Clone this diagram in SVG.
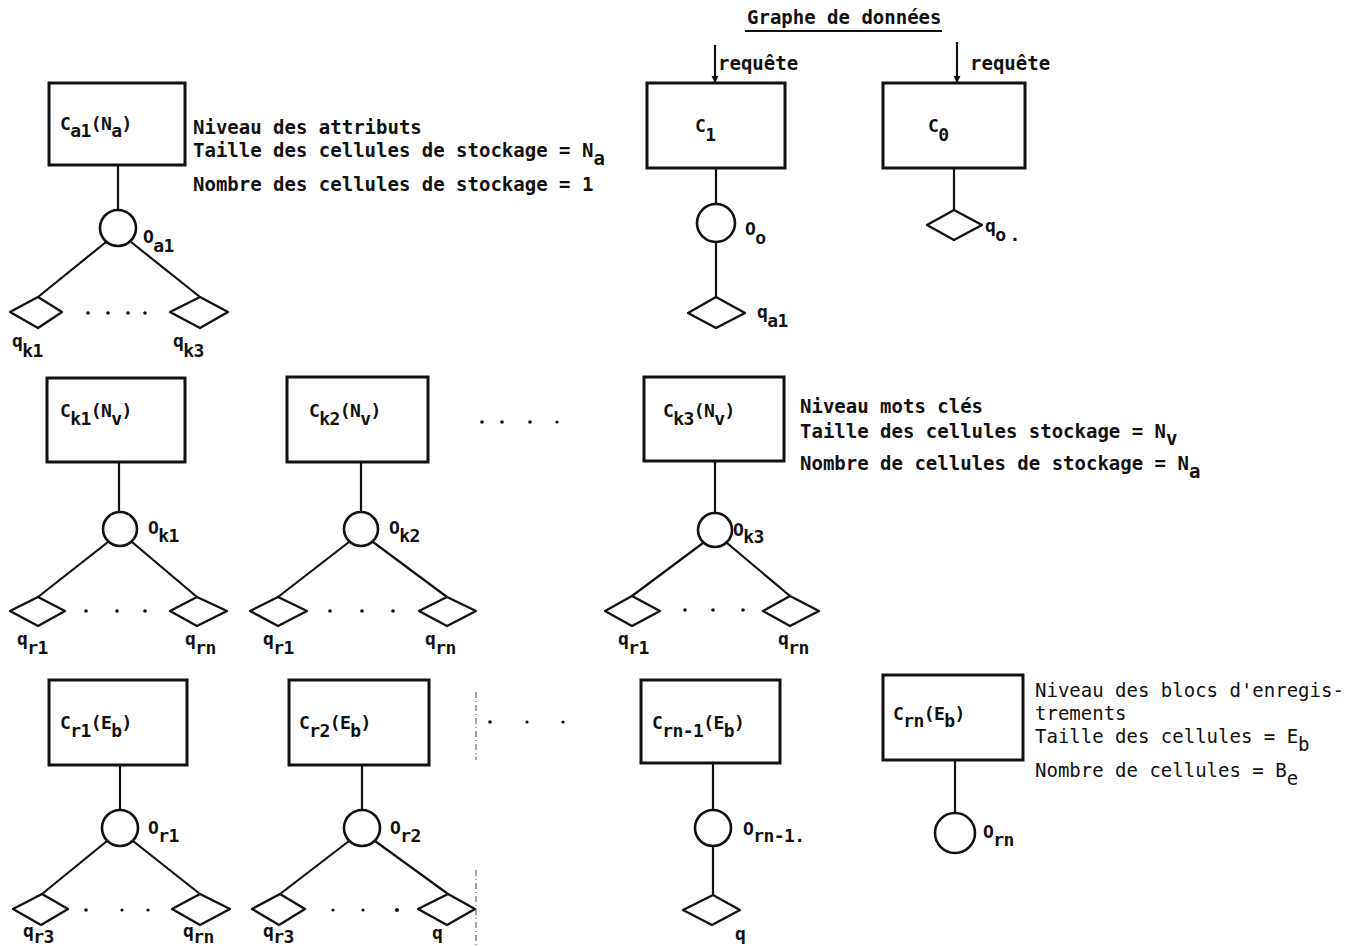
<svg xmlns="http://www.w3.org/2000/svg" width="1349" height="946" viewBox="0 0 1349 946">
<style>
  .bx{fill:none;stroke:#111;stroke-width:3}
  .ln{fill:none;stroke:#111;stroke-width:2.2}
  .ci{fill:#fff;stroke:#111;stroke-width:2.6}
  .dm{fill:#fff;stroke:#111;stroke-width:2.4;stroke-linejoin:round}
  .dot{fill:#111}
  .t{font-family:"DejaVu Sans Mono","Liberation Mono",monospace;font-size:19px;font-weight:bold;fill:#111}
  .tn{font-family:"DejaVu Sans Mono","Liberation Mono",monospace;font-size:19px;fill:#111}
  .lb{font-family:"DejaVu Sans Mono","Liberation Mono",monospace;font-size:18px;letter-spacing:-0.6px;font-weight:bold;fill:#111}
  .scan{fill:none;stroke:#444;stroke-width:1;stroke-dasharray:6 3 1 3}
</style>
<defs>
  <marker id="ah" viewBox="0 0 10 10" refX="10" refY="5" markerWidth="7" markerHeight="10" markerUnits="userSpaceOnUse" orient="auto">
    <path d="M0,0 L10,5 L0,10 z" fill="#111"/>
  </marker>
</defs>

<!-- title -->
<g id="title">
  <text class="t" x="747" y="24">Graphe de données</text>
  <line x1="745" y1="31" x2="942" y2="31" stroke="#111" stroke-width="2"/>
</g>

<!-- connectors -->
<g id="connectors">
  <line class="ln" x1="715" y1="45" x2="715" y2="83" marker-end="url(#ah)"/>
  <line class="ln" x1="957" y1="42" x2="957" y2="83" marker-end="url(#ah)"/>
  <!-- row 1 -->
  <line class="ln" x1="118" y1="165" x2="118" y2="210"/>
  <line class="ln" x1="106" y1="242" x2="38" y2="297"/>
  <line class="ln" x1="131" y1="242" x2="200" y2="297"/>
  <line class="ln" x1="716" y1="168" x2="716" y2="205"/>
  <line class="ln" x1="716" y1="242" x2="716" y2="297"/>
  <line class="ln" x1="954" y1="168" x2="954" y2="210"/>
  <!-- row 2 -->
  <line class="ln" x1="119" y1="462" x2="119" y2="512"/>
  <line class="ln" x1="108" y1="542" x2="38" y2="597"/>
  <line class="ln" x1="132" y1="542" x2="197" y2="597"/>
  <line class="ln" x1="361" y1="462" x2="361" y2="512"/>
  <line class="ln" x1="349" y1="542" x2="278" y2="597"/>
  <line class="ln" x1="373" y1="542" x2="447" y2="597"/>
  <line class="ln" x1="715" y1="461" x2="715" y2="513"/>
  <line class="ln" x1="703" y1="543" x2="632" y2="596"/>
  <line class="ln" x1="727" y1="543" x2="790" y2="596"/>
  <!-- row 3 -->
  <line class="ln" x1="120" y1="765" x2="120" y2="810"/>
  <line class="ln" x1="107" y1="841" x2="42" y2="894"/>
  <line class="ln" x1="133" y1="841" x2="200" y2="894"/>
  <line class="ln" x1="362" y1="765" x2="362" y2="810"/>
  <line class="ln" x1="349" y1="841" x2="280" y2="894"/>
  <line class="ln" x1="375" y1="841" x2="448" y2="894"/>
  <line class="ln" x1="713" y1="763" x2="713" y2="810"/>
  <line class="ln" x1="713" y1="846" x2="713" y2="895"/>
  <line class="ln" x1="955" y1="760" x2="955" y2="813"/>
</g>

<!-- ===== Row 1 ===== -->
<g id="Ca1">
  <rect class="bx" x="49" y="83" width="136" height="82"/>
  <text class="lb" x="60" y="130">C<tspan dy="7">a1</tspan><tspan dy="-7">(N</tspan><tspan dy="7">a</tspan><tspan dy="-7">)</tspan></text>
</g>
<g id="Oa1">
  <circle class="ci" cx="118" cy="228" r="18"/>
  <text class="lb" x="143" y="243">O<tspan dy="9">a1</tspan></text>
</g>
<g id="qk1">
  <polygon class="dm" points="38,297 62,312 38,328 10,312"/>
  <text class="lb" x="12" y="347">q<tspan dy="10">k1</tspan></text>
</g>
<g id="qk3">
  <polygon class="dm" points="200,297 228,312 200,328 170,312"/>
  <text class="lb" x="173" y="347">q<tspan dy="10">k3</tspan></text>
</g>
<g id="dots1">
  <circle class="dot" cx="88" cy="313" r="1.8"/>
  <circle class="dot" cx="108" cy="313" r="1.8"/>
  <circle class="dot" cx="128" cy="313" r="1.8"/>
  <circle class="dot" cx="145" cy="313" r="1.8"/>
</g>
<g id="txt-attributs">
  <text class="t" x="193" y="134">Niveau des attributs</text>
  <text class="t" x="193" y="157">Taille des cellules de stockage = N<tspan dy="8">a</tspan></text>
  <text class="t" x="193" y="191">Nombre des cellules de stockage = 1</text>
</g>

<g id="C1">
  <rect class="bx" x="647" y="83" width="138" height="85"/>
  <text class="lb" x="695" y="132">C<tspan dy="9">1</tspan></text>
  <text class="t" x="718" y="70">requête</text>
</g>
<g id="Oo">
  <circle class="ci" cx="716" cy="223" r="19"/>
  <text class="lb" x="745" y="235">O<tspan dy="9">o</tspan></text>
</g>
<g id="qa1">
  <polygon class="dm" points="716,297 745,313 716,328 688,313"/>
  <text class="lb" x="757" y="318">q<tspan dy="9">a1</tspan></text>
</g>

<g id="C0">
  <rect class="bx" x="883" y="83" width="142" height="85"/>
  <text class="lb" x="928" y="132">C<tspan dy="9">0</tspan></text>
  <text class="t" x="970" y="70">requête</text>
</g>
<g id="qo">
  <polygon class="dm" points="954,210 982,225 954,240 927,225"/>
  <text class="lb" x="985" y="232">q<tspan dy="9">o</tspan><tspan dx="4" dy="0">.</tspan></text>
</g>

<!-- ===== Row 2 ===== -->
<g id="Ck1">
  <rect class="bx" x="47" y="378" width="138" height="84"/>
  <text class="lb" x="60" y="417">C<tspan dy="8">k1</tspan><tspan dy="-8">(N</tspan><tspan dy="8">v</tspan><tspan dy="-8">)</tspan></text>
</g>
<g id="Ok1">
  <circle class="ci" cx="120" cy="529" r="17"/>
  <text class="lb" x="148" y="534">O<tspan dy="8">k1</tspan></text>
</g>
<g id="qr1-a">
  <polygon class="dm" points="38,597 65,611 38,626 10,611"/>
  <text class="lb" x="17" y="645">q<tspan dy="9">r1</tspan></text>
</g>
<g id="qrn-a">
  <polygon class="dm" points="197,597 227,611 197,626 170,611"/>
  <text class="lb" x="185" y="645">q<tspan dy="9">rn</tspan></text>
</g>
<g id="dots2a">
  <circle class="dot" cx="86" cy="611" r="1.8"/>
  <circle class="dot" cx="117" cy="611" r="1.8"/>
  <circle class="dot" cx="145" cy="611" r="1.8"/>
</g>

<g id="Ck2">
  <rect class="bx" x="287" y="377" width="141" height="85"/>
  <text class="lb" x="309" y="417">C<tspan dy="8">k2</tspan><tspan dy="-8">(N</tspan><tspan dy="8">v</tspan><tspan dy="-8">)</tspan></text>
</g>
<g id="Ok2">
  <circle class="ci" cx="361" cy="529" r="17"/>
  <text class="lb" x="389" y="534">O<tspan dy="8">k2</tspan></text>
</g>
<g id="qr1-b">
  <polygon class="dm" points="278,597 307,611 278,626 250,611"/>
  <text class="lb" x="263" y="645">q<tspan dy="9">r1</tspan></text>
</g>
<g id="qrn-b">
  <polygon class="dm" points="447,597 476,611 447,626 419,611"/>
  <text class="lb" x="425" y="645">q<tspan dy="9">rn</tspan></text>
</g>
<g id="dots2b">
  <circle class="dot" cx="330" cy="611" r="1.8"/>
  <circle class="dot" cx="362" cy="611" r="1.8"/>
  <circle class="dot" cx="393" cy="611" r="1.8"/>
</g>

<g id="dots-row2">
  <circle class="dot" cx="482" cy="422" r="1.8"/>
  <circle class="dot" cx="502" cy="422" r="1.8"/>
  <circle class="dot" cx="530" cy="422" r="1.8"/>
  <circle class="dot" cx="557" cy="422" r="1.6"/>
</g>

<g id="Ck3">
  <rect class="bx" x="644" y="377" width="140" height="84"/>
  <text class="lb" x="663" y="417">C<tspan dy="8">k3</tspan><tspan dy="-8">(N</tspan><tspan dy="8">v</tspan><tspan dy="-8">)</tspan></text>
</g>
<g id="Ok3">
  <circle class="ci" cx="715" cy="530" r="17"/>
  <text class="lb" x="733" y="536">O<tspan dy="7">k3</tspan></text>
</g>
<g id="qr1-c">
  <polygon class="dm" points="632,596 660,611 632,626 605,611"/>
  <text class="lb" x="618" y="645">q<tspan dy="9">r1</tspan></text>
</g>
<g id="qrn-c">
  <polygon class="dm" points="790,596 819,611 790,626 763,611"/>
  <text class="lb" x="778" y="645">q<tspan dy="9">rn</tspan></text>
</g>
<g id="dots2c">
  <circle class="dot" cx="685" cy="610" r="1.8"/>
  <circle class="dot" cx="713" cy="610" r="1.8"/>
  <circle class="dot" cx="743" cy="610" r="1.8"/>
</g>
<g id="txt-mots">
  <text class="t" x="800" y="413">Niveau mots clés</text>
  <text class="t" x="800" y="438">Taille des cellules stockage = N<tspan dy="7">v</tspan></text>
  <text class="t" x="800" y="470">Nombre de cellules de stockage = N<tspan dy="8">a</tspan></text>
</g>

<!-- ===== Row 3 ===== -->
<g id="Cr1">
  <rect class="bx" x="49" y="680" width="138" height="85"/>
  <text class="lb" x="60" y="729">C<tspan dy="8">r1</tspan><tspan dy="-8">(E</tspan><tspan dy="8">b</tspan><tspan dy="-8">)</tspan></text>
</g>
<g id="Or1">
  <circle class="ci" cx="120" cy="828" r="18"/>
  <text class="lb" x="148" y="834">O<tspan dy="8">r1</tspan></text>
</g>
<g id="qr3-a">
  <polygon class="dm" points="42,894 68,909 41,925 13,909"/>
  <text class="lb" x="23" y="937">q<tspan dy="6">r3</tspan></text>
</g>
<g id="qrn-d">
  <polygon class="dm" points="200,894 230,909 200,925 172,909"/>
  <text class="lb" x="183" y="937">q<tspan dy="6">rn</tspan></text>
</g>
<g id="dots3a">
  <circle class="dot" cx="86" cy="910" r="1.8"/>
  <circle class="dot" cx="122" cy="910" r="1.6"/>
  <circle class="dot" cx="148" cy="910" r="1.6"/>
</g>

<g id="Cr2">
  <rect class="bx" x="289" y="680" width="140" height="85"/>
  <text class="lb" x="299" y="729">C<tspan dy="8">r2</tspan><tspan dy="-8">(E</tspan><tspan dy="8">b</tspan><tspan dy="-8">)</tspan></text>
</g>
<g id="Or2">
  <circle class="ci" cx="362" cy="828" r="18"/>
  <text class="lb" x="390" y="834">O<tspan dy="8">r2</tspan></text>
</g>
<g id="qr3-b">
  <polygon class="dm" points="280,894 305,909 279,925 252,909"/>
  <text class="lb" x="263" y="937">q<tspan dy="6">r3</tspan></text>
</g>
<g id="q-b">
  <polygon class="dm" points="448,894 475,909 447,925 418,909"/>
  <text class="lb" x="432" y="939">q</text>
</g>
<g id="dots3b">
  <circle class="dot" cx="333" cy="910" r="1.6"/>
  <circle class="dot" cx="363" cy="910" r="1.6"/>
  <circle class="dot" cx="397" cy="910" r="2"/>
</g>

<g id="scan">
  <line class="scan" x1="476" y1="692" x2="476" y2="760"/>
  <line class="scan" x1="476" y1="870" x2="476" y2="946"/>
</g>

<g id="dots-row3">
  <circle class="dot" cx="490" cy="722" r="1.8"/>
  <circle class="dot" cx="527" cy="722" r="1.6"/>
  <circle class="dot" cx="563" cy="722" r="1.6"/>
</g>

<g id="Crn-1">
  <rect class="bx" x="641" y="680" width="139" height="83"/>
  <text class="lb" x="652" y="729">C<tspan dy="8">rn-1</tspan><tspan dy="-8">(E</tspan><tspan dy="8">b</tspan><tspan dy="-8">)</tspan></text>
</g>
<g id="Orn-1">
  <circle class="ci" cx="713" cy="828" r="18"/>
  <text class="lb" x="743" y="835">O<tspan dy="7">rn-1.</tspan></text>
</g>
<g id="q-c">
  <polygon class="dm" points="713,895 740,910 712,925 683,910"/>
  <text class="lb" x="735" y="940">q</text>
</g>

<g id="Crn">
  <rect class="bx" x="883" y="675" width="140" height="85"/>
  <text class="lb" x="893" y="720">C<tspan dy="7">rn</tspan><tspan dy="-7">(E</tspan><tspan dy="7">b</tspan><tspan dy="-7">)</tspan></text>
</g>
<g id="Orn">
  <circle class="ci" cx="955" cy="833" r="20"/>
  <text class="lb" x="983" y="838">O<tspan dy="8">rn</tspan></text>
</g>
<g id="txt-blocs">
  <text class="tn" x="1035" y="697">Niveau des blocs d'enregis-</text>
  <text class="tn" x="1035" y="720">trements</text>
  <text class="tn" x="1035" y="743">Taille des cellules = E<tspan dy="8">b</tspan></text>
  <text class="tn" x="1035" y="777">Nombre de cellules = B<tspan dy="8">e</tspan></text>
</g>
</svg>
